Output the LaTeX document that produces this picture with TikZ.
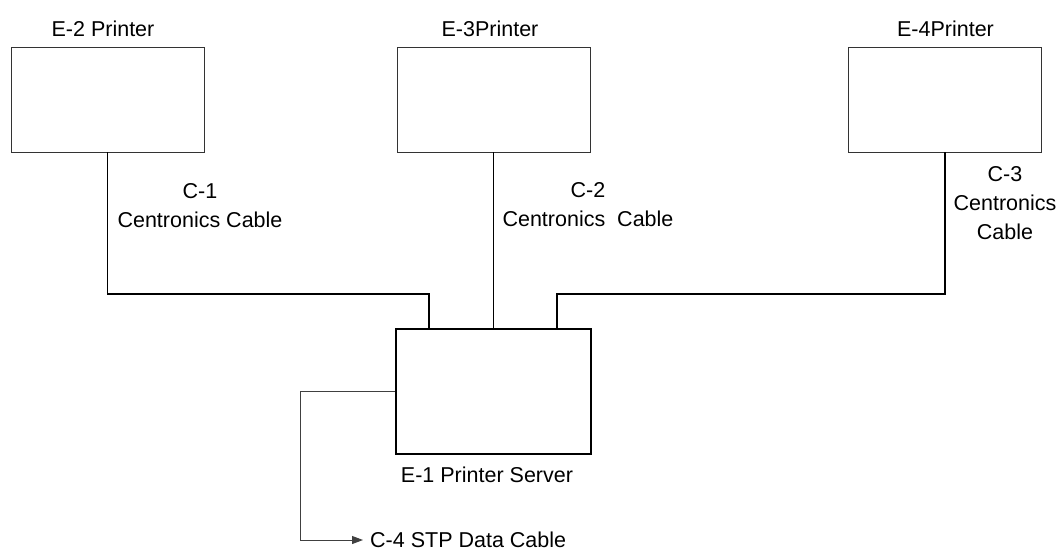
\documentclass[tikz,border=0pt]{standalone}
\usepackage{fontspec}
\setmainfont{Liberation Sans}
\usetikzlibrary{arrows.meta, positioning}

\begin{document}
\begin{tikzpicture}[x=1pt, y=-1pt,
    printer/.style={rectangle, draw=black!80, line width=0.8pt,
                    minimum width=193pt, minimum height=105pt},
    server/.style={rectangle, draw, line width=1.6pt,
                   minimum width=195pt, minimum height=125pt},
    lbl/.style={font=\fontsize{21.5}{29}\selectfont, inner sep=0pt, align=center},
    cable/.style={line width=1.3pt},
    stp/.style={draw=black!75, line width=0.9pt, -{Triangle[length=11pt, width=8pt]}}]

\useasboundingbox (0,0) rectangle (1063,555);

\node (e2)  [printer] at (107.5,99.5)  {};
\node (e3)  [printer] at (493.5,99.5)  {};
\node (e4)  [printer] at (945,99.5)    {};
\node (srv) [server]  at (493.5,391.5) {};

\node (e2lbl) [lbl, anchor=base]  at (103,36)   {E-2 Printer};
\node (e3lbl) [lbl, anchor=base]  at (490,36)   {E-3Printer};
\node (e4lbl) [lbl, anchor=base]  at (945.5,36) {E-4Printer};
\node (e1lbl) [lbl, anchor=base]  at (487,482)  {E-1 Printer Server};
\node (c1lbl) [lbl, anchor=north] at (200,183)  {C-1\\Centronics Cable};
\node (c2lbl) [lbl, anchor=north] at (588,182)  {C-2\\Centronics\ \ Cable};
\node (c3lbl) [lbl, anchor=north] at (1005,166) {C-3\\Centronics\\Cable};

\coordinate (j1) at (429,294);
\coordinate (j3) at (557,294);
\draw [cable] (e2.south) |- (j1) -- (j1 |- srv.north);
\draw [cable] (e3.south) -- (srv.north);
\draw [cable] (e4.south) |- (j3) -- (j3 |- srv.north);

\coordinate (bend) at (300,540);
\node (c4lbl) [lbl, inner xsep=7pt, right=63pt of bend] {C-4 STP Data Cable};
\draw [stp] (srv.west) -| (bend) -- (bend -| c4lbl.west);
\end{tikzpicture}
\end{document}
